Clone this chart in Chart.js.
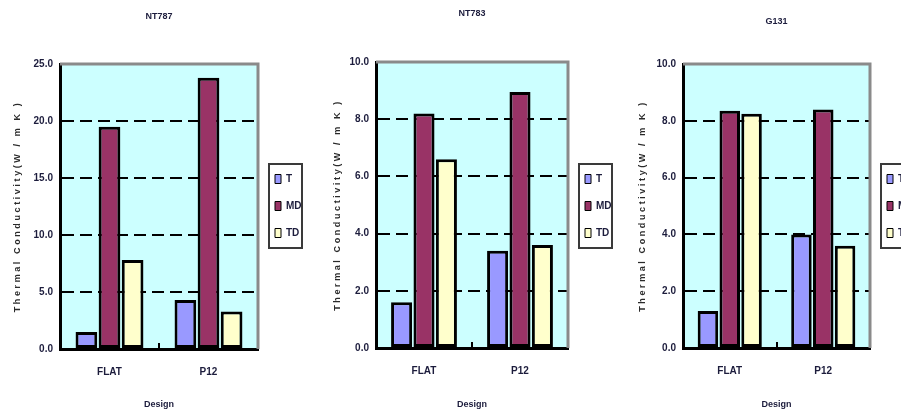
<!DOCTYPE html>
<html>
<head>
<meta charset="utf-8">
<script src="https://cdn.jsdelivr.net/npm/chart.js@4/dist/chart.umd.min.js"></script>
<style>
  body { margin: 0; background: #fff; width: 901px; height: 412px; overflow: hidden; position: relative; }
  canvas { position: absolute; top: 0; }
</style>
</head>
<body>
<canvas id="c0" width="309" height="412" style="left:0px"></canvas>
<canvas id="c1" width="319" height="412" style="left:300px"></canvas>
<canvas id="c2" width="321" height="412" style="left:600px"></canvas>
<script>
// data
var designs = ['FLAT', 'P12'];
var seriesNames = ['T', 'MD', 'TD'];
var seriesColors = ['#9999FF', '#993366', '#FFFFCC'];
var sampleNames = ['NT787', 'NT783', 'G131'];

var nt787T = [1.5, 4.3];
var nt787MD = [19.5, 23.8];
var nt787TD = [7.8, 3.3];

var nt783T = [1.6, 3.4];
var nt783MD = [8.2, 8.95];
var nt783TD = [6.6, 3.6];

var g131T = [1.3, 4.0];
var g131MD = [8.35, 8.4];
var g131TD = [8.25, 3.6];

var yMax = [25, 10, 10];
var yStep = [5, 2, 2];

var allSeries = [
    [nt787T, nt787MD, nt787TD],
    [nt783T, nt783MD, nt783TD],
    [g131T, g131MD, g131TD]
];

// layout bits per panel
var titlePad = [{top: 11.6, bottom: 41.6}, {top: 8.6, bottom: 42.6}, {top: 16.6, bottom: 36.6}];
var yTitlePad = [12.6, 32.6, 37.6];
var yAxisWidth = [60, 76, 83];
var xAxisHeight = [63, 64, 64];

var font = "'Liberation Sans', Arial, sans-serif";
var textColor = '#1c1c3c';

var panelDecor = {
    id: 'panelDecor',
    beforeLayout: function(chart) {
        var lg = chart.legend;
        if (lg && !lg._fixed) {
            var f = lg.fit;
            lg.fit = function() { f.apply(this, arguments); if (!this.isHorizontal()) this.width = 47; };
            lg._fixed = true;
        }
    },
    beforeDraw: function(chart) {
        var a = chart.chartArea, c = chart.ctx;
        c.save();
        c.fillStyle = '#CCFFFF';
        c.fillRect(a.left, a.top, a.right - a.left, a.bottom - a.top);
        c.restore();
        var s = chart.scales.y;
        if (s && !s._spaced) {
            var d = s.drawTitle;
            s.drawTitle = function() {
                var cx = this.ctx;
                cx.save();
                cx.letterSpacing = '2.6px';
                d.apply(this, arguments);
                cx.restore();
            };
            s._spaced = true;
        }
    },
    afterDraw: function(chart) {
        var a = chart.chartArea, c = chart.ctx, x = chart.scales.x;
        c.save();
        // grey top and right frame
        c.strokeStyle = '#8a8a8a';
        c.lineWidth = 3;
        c.beginPath();
        c.moveTo(a.left, a.top);
        c.lineTo(a.right, a.top);
        c.lineTo(a.right, a.bottom);
        c.stroke();
        // small tick between categories
        c.strokeStyle = '#000';
        c.lineWidth = 2;
        var mx = Math.round(x.getPixelForValue(0.5));
        c.beginPath();
        c.moveTo(mx, a.bottom);
        c.lineTo(mx, a.bottom - 6);
        c.stroke();
        // legend frame
        var hb = chart.legend.legendHitBoxes;
        if (hb && hb.length) {
            var l = hb[0].left - 6, t = hb[0].top - 10;
            var last = hb[hb.length - 1];
            var b = last.top + last.height + 10;
            c.strokeStyle = '#3a3a3a';
            c.lineWidth = 2;
            c.strokeRect(l, t, 33, b - t);
        }
        c.restore();
    }
};

function makePanel(i) {
    var ds = [];
    for (var k = 0; k < seriesNames.length; k++) {
        ds.push({
            label: seriesNames[k],
            data: allSeries[i][k],
            backgroundColor: seriesColors[k],
            borderColor: '#000',
            borderWidth: 3,
            borderSkipped: false,
            categoryPercentage: 0.7,
            barPercentage: 0.94
        });
    }
    var max = yMax[i];
    return new Chart(document.getElementById('c' + i).getContext('2d'), {
        type: 'bar',
        data: { labels: designs, datasets: ds },
        options: {
            responsive: false,
            animation: false,
            layout: { padding: { left: 0, right: 4, top: 0, bottom: 0 } },
            plugins: {
                tooltip: { enabled: false },
                title: {
                    display: true,
                    text: sampleNames[i],
                    fullSize: false,
                    color: textColor,
                    font: { family: font, size: 9, weight: 'bold' },
                    padding: titlePad[i]
                },
                legend: {
                    position: 'right',
                    labels: {
                        boxWidth: 6,
                        boxHeight: 9,
                        padding: 17,
                        color: textColor,
                        font: { family: font, size: 10, weight: 'bold' },
                        generateLabels: function(chart) {
                            var items = Chart.defaults.plugins.legend.labels.generateLabels(chart);
                            items.forEach(function(it) { it.lineWidth = 1; it.strokeStyle = '#000'; });
                            return items;
                        }
                    }
                }
            },
            scales: {
                x: {
                    grid: { display: true, drawOnChartArea: false, drawTicks: false },
                    border: { display: true, color: '#000', width: 3 },
                    ticks: { padding: 17, color: textColor, font: { family: font, size: 10, weight: 'bold' } },
                    title: {
                        display: true,
                        text: 'Design',
                        color: textColor,
                        font: { family: font, size: 9, weight: 'bold' },
                        padding: { top: 4, bottom: 1.6 }
                    },
                    afterFit: function(s) { s.height = xAxisHeight[i]; }
                },
                y: {
                    min: 0,
                    max: max,
                    ticks: {
                        stepSize: yStep[i],
                        padding: 7,
                        color: textColor,
                        font: { family: font, size: 10, weight: 'bold' },
                        callback: function(v) { return v.toFixed(1); }
                    },
                    grid: {
                        drawTicks: false,
                        lineWidth: 2,
                        color: function(c) {
                            if (!c.tick || c.tick.value === 0 || c.tick.value === max) return 'rgba(0,0,0,0)';
                            return '#000';
                        }
                    },
                    border: { display: true, color: '#000', width: 3, dash: [12, 6] },
                    title: {
                        display: true,
                        text: 'Thermal Conductivity(W / m K )',
                        color: '#2a2a2a',
                        font: { family: font, size: 9, weight: 'bold' },
                        padding: { top: yTitlePad[i], bottom: 0 }
                    },
                    afterFit: function(s) { s.width = yAxisWidth[i]; }
                }
            }
        },
        plugins: [panelDecor]
    });
}

makePanel(0);
makePanel(1);
makePanel(2);
</script>
</body>
</html>
